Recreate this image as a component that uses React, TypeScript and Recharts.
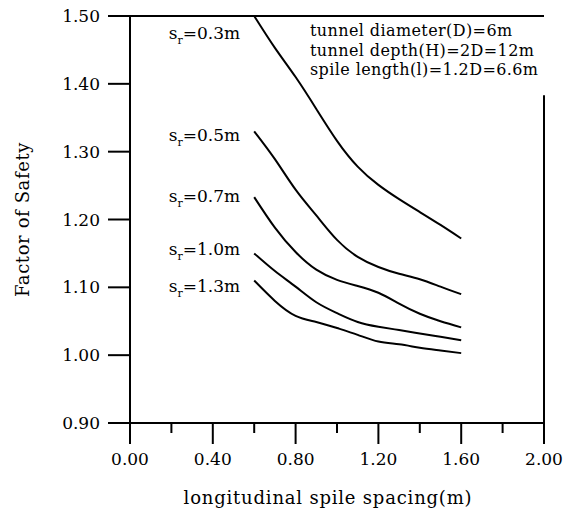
import React from 'react';
import { LineChart, Line, XAxis, YAxis, ReferenceLine, LabelList, Label } from 'recharts';

// longitudinal spile spacing (m)
const spacing = [0.6, 0.7, 0.8, 0.9, 1.0, 1.1, 1.2, 1.3, 1.4, 1.5, 1.6];

// factor of safety for each radial spacing s_r
const fs03 = [1.5, 1.453, 1.41, 1.363, 1.316, 1.278, 1.251, 1.23, 1.211, 1.192, 1.172];
const fs05 = [1.33, 1.289, 1.244, 1.206, 1.17, 1.145, 1.13, 1.12, 1.112, 1.101, 1.09];
const fs07 = [1.233, 1.188, 1.152, 1.126, 1.111, 1.102, 1.092, 1.076, 1.061, 1.05, 1.041];
const fs10 = [1.15, 1.124, 1.101, 1.078, 1.062, 1.049, 1.042, 1.037, 1.032, 1.027, 1.022];
const fs13 = [1.11, 1.08, 1.058, 1.049, 1.04, 1.03, 1.02, 1.016, 1.011, 1.007, 1.003];

const series = [
  { key: 'sr03', label: '0.3m', values: fs03, dy: 17 },
  { key: 'sr05', label: '0.5m', values: fs05, dy: 4 },
  { key: 'sr07', label: '0.7m', values: fs07, dy: -1 },
  { key: 'sr10', label: '1.0m', values: fs10, dy: -4 },
  { key: 'sr13', label: '1.3m', values: fs13, dy: 5 },
];

const xTicks = [0, 0.2, 0.4, 0.6, 0.8, 1.0, 1.2, 1.4, 1.6, 1.8, 2.0];
const majorX = [0, 0.4, 0.8, 1.2, 1.6, 2.0];
const yTicks = [0.9, 1.0, 1.1, 1.2, 1.3, 1.4, 1.5];

const notes = ['tunnel diameter(D)=6m', 'tunnel depth(H)=2D=12m', 'spile length(l)=1.2D=6.6m'];

const data = spacing.map((x, i) => {
  const row: any = { x };
  series.forEach((s) => (row[s.key] = s.values[i]));
  return row;
});

const FONT = '"DejaVu Serif", serif';

const XTick = (props: any) => {
  const { x, y, payload } = props;
  const major = majorX.some((m) => Math.abs(m - payload.value) < 1e-6);
  return (
    <g>
      <line x1={x} y1={y} x2={x} y2={y + (major ? 21 : 10)} stroke="#000" strokeWidth={2} />
      {major && (
        <text x={x} y={y + 42} textAnchor="middle" fontSize={17} fontFamily={FONT} fill="#000">
          {payload.value.toFixed(2)}
        </text>
      )}
    </g>
  );
};

const srLabel = (label: string, dy: number) => (props: any) => {
  if (props.index !== 0) return null;
  return (
    <text x={props.x - 14} y={props.y + dy + 6} textAnchor="end" fontSize={17} fontFamily={FONT} fill="#000">
      <tspan>s</tspan>
      <tspan dy={5} fontSize={11}>r</tspan>
      <tspan dy={-5}>={label}</tspan>
    </text>
  );
};

export default function App() {
  return (
    <div style={{ position: 'absolute', left: 0, top: 0, width: 563, height: 514, background: '#fff' }}>
      <LineChart width={563} height={514} data={data} margin={{ top: 16, right: 19, bottom: 0, left: 0 }}>
        <XAxis
          dataKey="x"
          type="number"
          domain={[0, 2]}
          ticks={xTicks}
          interval={0}
          height={91}
          tickSize={0}
          tickMargin={0}
          tickLine={false}
          axisLine={{ stroke: '#000', strokeWidth: 2 }}
          tick={XTick}
        >
          <Label
            content={(p: any) => (
              <text
                x={p.viewBox.x + p.viewBox.width / 2 - 9}
                y={p.viewBox.y + 81}
                textAnchor="middle"
                fontSize={18}
                letterSpacing={0.8}
                fontFamily={FONT}
                fill="#000"
              >
                longitudinal spile spacing(m)
              </text>
            )}
          />
        </XAxis>
        <YAxis
          type="number"
          domain={[0.9, 1.5]}
          ticks={yTicks}
          interval={0}
          width={130}
          tickSize={22}
          tickMargin={8}
          tickFormatter={(v: number) => v.toFixed(2)}
          tick={{ fill: '#000', fontSize: 17, fontFamily: FONT }}
          tickLine={{ stroke: '#000', strokeWidth: 2 }}
          axisLine={{ stroke: '#000', strokeWidth: 2 }}
        >
          <Label
            content={(p: any) => {
              const cx = p.viewBox.x + 22;
              const cy = p.viewBox.y + p.viewBox.height / 2;
              return (
                <text
                  x={cx}
                  y={cy}
                  transform={`rotate(-90 ${cx} ${cy})`}
                  textAnchor="middle"
                  dominantBaseline="central"
                  fontSize={18}
                  letterSpacing={0.6}
                  fontFamily={FONT}
                  fill="#000"
                >
                  Factor of Safety
                </text>
              );
            }}
          />
        </YAxis>
        <ReferenceLine y={1.5} stroke="#000" strokeWidth={2} />
        <ReferenceLine
          segment={[
            { x: 2, y: 0.9 },
            { x: 2, y: 1.383 },
          ]}
          stroke="#000"
          strokeWidth={2}
        />
        {series.map((s) => (
          <Line
            key={s.key}
            dataKey={s.key}
            type="natural"
            stroke="#000"
            strokeWidth={2}
            dot={false}
            isAnimationActive={false}
          >
            <LabelList dataKey={s.key} content={srLabel(s.label, s.dy)} />
          </Line>
        ))}
      </LineChart>
      <div
        style={{
          position: 'absolute',
          left: 310,
          top: 21,
          fontFamily: FONT,
          fontSize: 16,
          letterSpacing: 0.4,
          lineHeight: '19.5px',
          color: '#000',
          whiteSpace: 'nowrap',
        }}
      >
        {notes.map((n) => (
          <div key={n}>{n}</div>
        ))}
      </div>
    </div>
  );
}
